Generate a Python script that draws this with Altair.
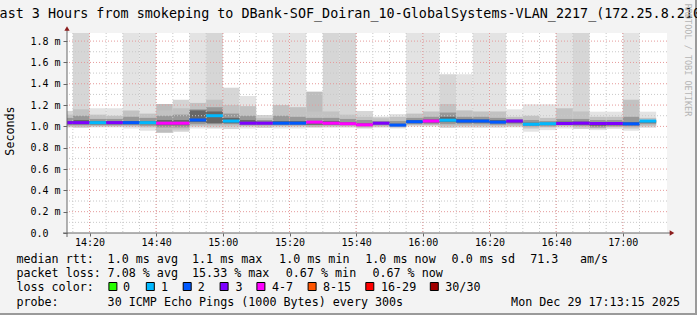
import altair as alt
import pandas as pd

MONO = "DejaVu Sans Mono"

TITLE = "Last 3 Hours from smokeping to DBank-SOF_Doiran_10-GlobalSystems-VLAN_2217_(172.25.8.210)"

# ---------------- data (ms) ----------------
# 5-minute RRD steps, start times (UTC clock as printed on the graph)
step_start = pd.date_range("2025-12-29 14:10:00", periods=36, freq="5min")
step_end = step_start + pd.Timedelta(minutes=5)

median_rtt = [1.035, 1.035, 1.035, 1.035, 1.035, 1.035, 1.03, 1.03, 1.06, 1.10,
              1.05, 1.03, 1.03, 1.03, 1.03, 1.04, 1.03, 1.025, 1.015, 1.03,
              1.012, 1.044, 1.05, 1.058, 1.05, 1.05, 1.04, 1.05, 1.02, 1.025,
              1.027, 1.03, 1.027, 1.027, 1.024, 1.05]

loss_cat = ["3", "3", "1", "3", "2", "1", "4-7", "4-7", "2", "1",
            "1", "3", "3", "2", "2", "4-7", "4-7", "4-7", "4-7", "3",
            "2", "2", "4-7", "1", "2", "2", "2", "3", "1", "1",
            "3", "3", "3", "3", "2", "1"]

# outermost smoke (min .. max ping)
smoke_max = [1.145, 1.9, 1.17, 1.17, 1.9, 1.9, 1.21, 1.25, 1.9, 1.9,
             1.363, 1.285, 1.107, 1.9, 1.9, 1.326, 1.9, 1.9, 1.144, 1.091,
             1.116, 1.9, 1.9, 1.489, 1.489, 1.9, 1.9, 1.16, 1.207, 1.207,
             1.9, 1.9, 1.138, 1.138, 1.9, 1.138]
smoke_min = [0.99, 0.985, 0.99, 0.99, 0.98, 0.96, 0.94, 0.95, 0.98, 0.98,
             0.975, 0.98, 0.985, 0.98, 0.98, 0.99, 0.99, 0.99, 0.98, 0.99,
             0.98, 0.998, 0.998, 0.985, 0.985, 0.985, 0.985, 0.99, 0.95, 0.965,
             0.98, 0.975, 0.965, 0.975, 0.96, 0.985]
outer_shade = ["#d6d6d6", "#d6d6d6", "#e3e3e3", "#e3e3e3", "#e3e3e3", "#e3e3e3", "#bdbdbd", "#d3d3d3", "#e3e3e3", "#d6d6d6",
               "#d6d6d6", "#e3e3e3", "#d3d3d3", "#e3e3e3", "#e3e3e3", "#bdbdbd", "#d6d6d6", "#d6d6d6", "#d6d6d6", "#d3d3d3",
               "#e3e3e3", "#e3e3e3", "#e3e3e3", "#d6d6d6", "#e3e3e3", "#e3e3e3", "#e3e3e3", "#e3e3e3", "#e3e3e3", "#e3e3e3",
               "#e3e3e3", "#d6d6d6", "#e3e3e3", "#e3e3e3", "#e3e3e3", "#e3e3e3"]

# inner smoke bands
band2_hi = [1.11, 1.16, 1.11, 1.10, 1.15, 1.12, 1.15, 1.17, 1.22, 1.25,
            1.20, 1.19, 1.08, 1.20, 1.18, 1.14, 1.14, 1.11, 1.09, 1.076,
            1.09, 1.12, 1.14, 1.21, 1.15, 1.14, 1.14, 1.09, 1.10, 1.08,
            1.17, 1.14, 1.09, 1.09, 1.25, 1.08]
band2_lo = [1.0, 0.995, 1.0, 1.0, 1.0, 0.99, 0.97, 0.97, 1.0, 1.0,
            1.0, 1.0, 1.0, 1.0, 1.0, 1.0, 1.0, 1.0, 0.99, 1.0,
            0.99, 1.01, 1.01, 1.0, 1.0, 1.0, 1.0, 1.0, 0.98, 0.99,
            1.0, 0.99, 0.98, 0.99, 0.98, 1.0]
band3_hi = [1.08, 1.10, 1.07, 1.07, 1.09, 1.08, 1.10, 1.11, 1.16, 1.18,
            1.12, 1.10, 1.06, 1.10, 1.09, 1.08, 1.08, 1.07, 1.06, 1.05,
            1.05, 1.08, 1.09, 1.13, 1.09, 1.09, 1.08, 1.07, 1.06, 1.05,
            1.07, 1.07, 1.06, 1.06, 1.09, 1.06]
band3_lo = [1.01, 1.01, 1.01, 1.01, 1.01, 1.005, 0.99, 0.99, 1.02, 1.02,
            1.02, 1.01, 1.01, 1.01, 1.01, 1.01, 1.01, 1.01, 1.0, 1.01,
            1.0, 1.02, 1.02, 1.02, 1.02, 1.02, 1.015, 1.02, 1.0, 1.0,
            1.01, 1.005, 0.99, 1.0, 1.0, 1.02]
band4_hi = [1.05, 1.06, 1.05, 1.05, 1.05, 1.05, 1.06, 1.06, 1.15, 1.14,
            1.08, 1.06, 1.045, 1.05, 1.05, 1.05, 1.05, 1.04, 1.03, 1.04,
            1.025, 1.06, 1.065, 1.09, 1.07, 1.065, 1.06, 1.06, 1.035, 1.035,
            1.045, 1.045, 1.04, 1.04, 1.04, 1.055]
band4_lo = [1.02, 1.02, 1.02, 1.02, 1.02, 1.02, 1.01, 1.01, 1.04, 1.03,
            1.03, 1.02, 1.02, 1.02, 1.02, 1.015, 1.015, 1.015, 1.005, 1.02,
            1.005, 1.03, 1.035, 1.04, 1.035, 1.035, 1.03, 1.035, 1.01, 1.015,
            1.015, 1.015, 1.005, 1.01, 1.01, 1.035]

loss_labels = ["0", "1", "2", "3", "4-7", "8-15", "16-29", "30/30"]
loss_colors = ["#26ff00", "#00b8ff", "#0059ff", "#7e00ff", "#ff00ff", "#ff5500", "#ff0000", "#a10000"]
loss_map = dict(zip(loss_labels, loss_colors))

y_ticks = [0, 0.2, 0.4, 0.6, 0.8, 1.0, 1.2, 1.4, 1.6, 1.8]
y_minor = [0.1, 0.3, 0.5, 0.7, 0.9, 1.1, 1.3, 1.5, 1.7]
x_major = ["14:20", "14:40", "15:00", "15:20", "15:40", "16:00", "16:20", "16:40", "17:00"]

rtt_text = ["median rtt:", "1.0 ms avg", "1.1 ms max", "1.0 ms min", "1.0 ms now", "0.0 ms sd", "71.3", "am/s"]
loss_text = ["packet loss:", "7.08 % avg", "15.33 % max", "0.67 % min", "0.67 % now"]
probe_text = ["probe:", "30 ICMP Echo Pings (1000 Bytes) every 300s"]
stamp_text = "Mon Dec 29 17:13:15 2025"

# ---------------- tables ----------------
fmt = "%Y-%m-%dT%H:%M:%SZ"
df = pd.DataFrame({
    "start": [t.strftime(fmt) for t in step_start],
    "end": [t.strftime(fmt) for t in step_end],
    "median": median_rtt,
    "lc": [loss_map[c] for c in loss_cat],
    "mx": smoke_max, "mn": smoke_min, "shade": outer_shade,
    "b2h": band2_hi, "b2l": band2_lo,
    "b3h": band3_hi, "b3l": band3_lo,
    "b4h": band4_hi, "b4l": band4_lo,
})

def dt(h, m, s=0):
    return alt.DateTime(year=2025, month=12, date=29, hours=h, minutes=m, seconds=s, utc=True)

xscale = alt.Scale(type="utc", domain=[dt(14, 13, 15), dt(17, 13, 15)])
yscale = alt.Scale(domain=[0, 1.876], nice=False, zero=True)

major_dt = [dt(int(s[:2]), int(s[3:])) for s in x_major]

xaxis = alt.Axis(values=major_dt, format="%H:%M", title=None, grid=False, domain=False,
                 labelFont=MONO, labelFontSize=10, labelColor="black", labelOverlap=False,
                 tickSize=3, tickColor="#666666", labelBaseline="middle", labelPadding=6)
yaxis = alt.Axis(values=y_ticks, title=None, grid=False, domain=False, labelOverlap=False,
                 labelExpr="datum.value == 0 ? '0.0' : format(datum.value, '.1f') + ' m'",
                 labelFont=MONO, labelFontSize=10, labelColor="black", labelAlign="left",
                 labelBaseline="middle", labelPadding=33, tickSize=4, tickColor="#666666")


def X(field):
    return alt.X(field, scale=xscale, axis=xaxis)


def Y(field):
    return alt.Y(field, scale=yscale, axis=yaxis)


base = alt.Chart(df)


def band(lo, hi, color=None):
    enc = dict(x=X("start:T"), x2="end:T", y=Y(f"{lo}:Q"), y2=f"{hi}:Q")
    if color is None:
        return base.mark_rect(clip=True).encode(color=alt.Color("shade:N", scale=None), **enc)
    return base.mark_rect(clip=True, color=color).encode(**enc)

smoke1 = band("mn", "mx")
smoke2 = band("b2l", "b2h", "#c2c2c2")
smoke3 = band("b3l", "b3h", "#989898")
smoke4 = band("b4l", "b4h", "#676767")

# grid
minor_times = [t.strftime(fmt) for t in step_start[1:]]
major_times = [f"2025-12-29T{s}:00Z" for s in x_major]
grid_h_minor = alt.Chart(pd.DataFrame({"v": y_minor})).mark_rule(
    color="#c8c8c8", strokeDash=[1, 2], strokeWidth=1).encode(y=Y("v:Q"))
grid_h_major = alt.Chart(pd.DataFrame({"v": y_ticks[1:]})).mark_rule(
    color="#e59a9a", strokeDash=[1, 2], strokeWidth=1).encode(y=Y("v:Q"))
grid_v_minor = alt.Chart(pd.DataFrame({"t": minor_times})).mark_rule(
    color="#c8c8c8", strokeDash=[1, 2], strokeWidth=1).encode(x=X("t:T"))
grid_v_major = alt.Chart(pd.DataFrame({"t": major_times})).mark_rule(
    color="#e59a9a", strokeDash=[1, 2], strokeWidth=1).encode(x=X("t:T"))

medians = base.mark_rule(strokeWidth=3, clip=True).encode(
    x=X("start:T"), x2="end:T", y=Y("median:Q"),
    color=alt.Color("lc:N", scale=None))

one = pd.DataFrame({"k": [0]})

yline = alt.Chart(one).mark_rule(color="#666666", strokeWidth=1).encode(
    x=alt.value(0), y=alt.value(-5), y2=alt.value(204))
xline = alt.Chart(one).mark_rule(color="#666666", strokeWidth=1).encode(
    x=alt.value(-4), x2=alt.value(605), y=alt.value(200))
yarrow = alt.Chart(one).mark_point(shape="triangle-up", filled=True, size=28, color="#8b1c1c", opacity=1).encode(
    x=alt.value(0), y=alt.value(-4.5))
xarrow = alt.Chart(one).mark_point(shape="triangle-right", filled=True, size=28, color="#8b1c1c", opacity=1).encode(
    x=alt.value(605), y=alt.value(200))

border_r = alt.Chart(one).mark_rule(color="#9a9a9a", strokeWidth=2).encode(
    x=alt.value(629), y=alt.value(-33), y2=alt.value(282))
border_b = alt.Chart(one).mark_rule(color="#9a9a9a", strokeWidth=2).encode(
    x=alt.value(-67), x2=alt.value(630), y=alt.value(281))


def txt(s, x, y, size=11.7, align="left", color="black", angle=0):
    return alt.Chart(pd.DataFrame({"s": [s]})).mark_text(
        align=align, baseline="middle", font=MONO, fontSize=size, color=color, angle=angle
    ).encode(text="s:N", x=alt.value(x), y=alt.value(y))

texts = [
    txt(TITLE, 283.3, -19, size=13.4, align="center"),
    txt("Seconds", -57, 98, size=11.7, align="center", angle=270),
    txt("RRDTOOL / TOBI OETIKER", 621, 27, size=8.5, align="center", color="#b5b5b5", angle=90),
]

X0 = -67
rtt_x = [16.4, 107.6, 192, 279.1, 365.3, 451.6, 530.2, 580]
for s, x in zip(rtt_text, rtt_x):
    texts.append(txt(s, X0 + x, 226))
loss_x = [16.4, 107.6, 192, 285.8, 372.4]
for s, x in zip(loss_text, loss_x):
    texts.append(txt(s, X0 + x, 240))
texts.append(txt("loss color:", X0 + 16.4, 254))
box_x = [108.4, 145.8, 182.7, 219.6, 256.4, 307.6, 365.3, 429.8]
lab_x = [123, 160.9, 197.8, 235.6, 272, 323, 381, 445.3]
boxes = []
for lab, col, bx, lx in zip(loss_labels, loss_colors, box_x, lab_x):
    boxes.append(alt.Chart(one).mark_rect(fill=col, stroke="black", strokeWidth=1).encode(
        x=alt.value(X0 + bx + 0.5), x2=alt.value(X0 + bx + 8.5),
        y=alt.value(249.5), y2=alt.value(257.5)))
    texts.append(txt(lab, X0 + lx, 254))
probe_x = [16.4, 107.6]
for s, x in zip(probe_text, probe_x):
    texts.append(txt(s, X0 + x, 268.5))
texts.append(txt(stamp_text, X0 + 680, 268.5, align="right"))

chart = alt.layer(
    smoke1, smoke2, smoke3, smoke4,
    grid_h_minor, grid_v_minor, grid_h_major, grid_v_major,
    medians, yline, xline, yarrow, xarrow, border_r, border_b,
    *boxes, *texts,
).properties(
    width=600, height=200,
    autosize=alt.AutoSizeParams(type="none"),
    padding={"left": 67, "top": 33, "right": 30, "bottom": 82},
    background="#f3f3f3",
).configure_view(fill="white", strokeWidth=0)

chart.save("out.html", embed_options={"renderer": "svg", "actions": False})
